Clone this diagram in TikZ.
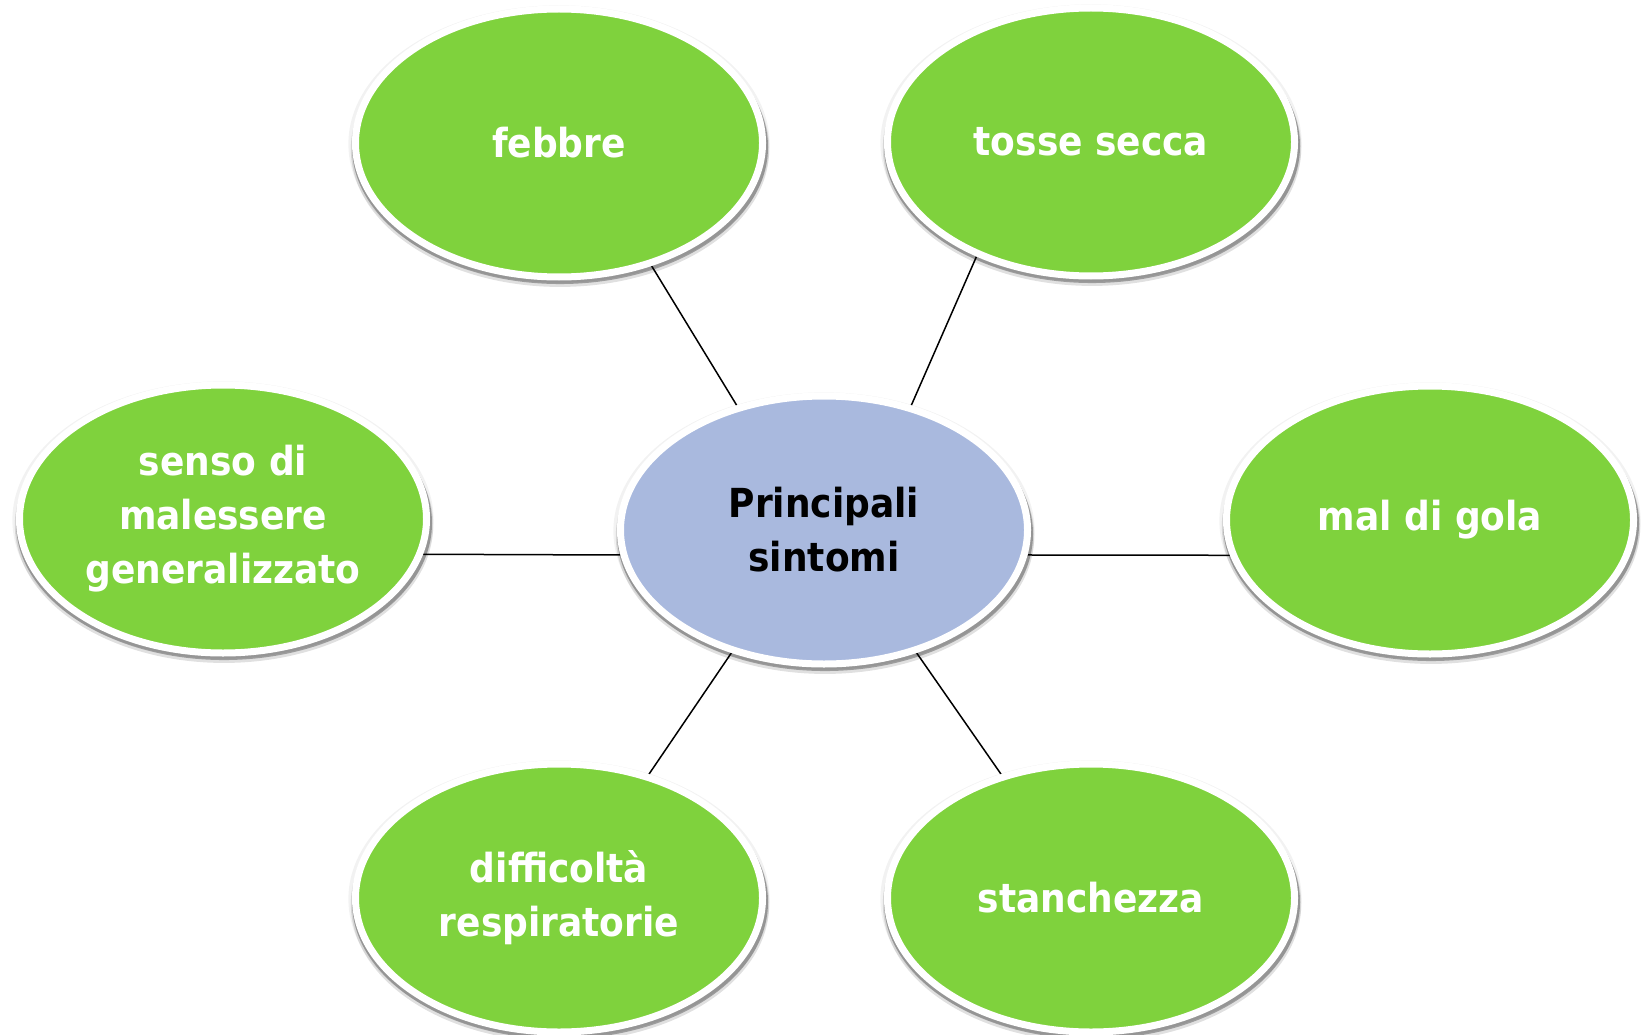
\documentclass[tikz,border=0pt]{standalone}
\usepackage{fontspec}
\setmainfont{DejaVu Sans Condensed}
\usetikzlibrary{shapes.geometric,shadows,backgrounds}

\definecolor{leafgreen}{RGB}{127,210,61}
\definecolor{hubblue}{RGB}{169,185,222}

\begin{document}
\begin{tikzpicture}[x=1pt,y=-1pt,
  bubble/.style={ellipse,draw=white,line width=7pt,minimum width=407pt,minimum height=268pt,
    inner sep=0pt,align=center,font=\fontsize{40}{54}\selectfont\bfseries,
    drop shadow={shadow xshift=0pt,shadow yshift=-1pt,shadow scale=1.035,fill=black,opacity=0.05},
    drop shadow={shadow xshift=1pt,shadow yshift=-6pt,shadow scale=1.028,fill=black,opacity=0.12},
    drop shadow={shadow xshift=1pt,shadow yshift=-4pt,shadow scale=1.022,fill=black,opacity=0.3}},
  symptom/.style={bubble,fill=leafgreen,text=white},
  hub/.style={bubble,fill=hubblue,text=black}]
  \useasboundingbox (0,0) rectangle (1645,1035);
  \node[hub]     (C) at (824,530)  {Principali\\sintomi};
  \node[symptom] (F) at (559,143)  {febbre};
  \node[symptom] (T) at (1091,142) {tosse secca};
  \node[symptom] (G) at (223,519)  {senso di\\malessere\\generalizzato};
  \node[symptom] (M) at (1430,520) {mal di gola};
  \node[symptom] (D) at (559,898)  {difficoltà\\respiratorie};
  \node[symptom] (S) at (1091,898) {stanchezza};
\tikzset{link/.style={draw=black,line width=1.5pt}}
\begin{scope}[on background layer]
\path (C.125)   edge [link] (F.-53)
      (C.55)    edge [link] (T.-135)
      (C.187.3) edge [link] (G.-10.5)
      (C.-7.3)  edge [link] (M.190)
      (C.233)   edge [link] (D.54)
      (C.-53)   edge [link] (S.126);
\end{scope}
\end{tikzpicture}
\end{document}
